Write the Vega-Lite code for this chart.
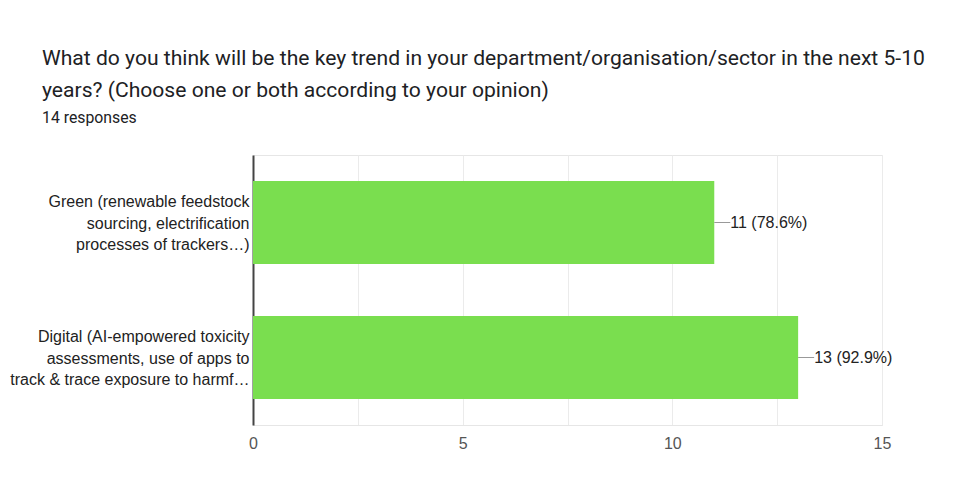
{
  "$schema": "https://vega.github.io/schema/vega-lite/v6.json",
  "width": 629,
  "height": 270,
  "autosize": {"type": "none"},
  "padding": {"left": 253, "top": 155, "right": 86, "bottom": 70},
  "background": "#ffffff",
  "title": {
    "text": ["What do you think will be the key trend in your department/organisation/sector in the next 5-10", "years? (Choose one or both according to your opinion)"],
    "subtitle": "14 responses",
    "anchor": "start",
    "frame": "group",
    "dx": -211,
    "offset": 29,
    "font": "Roboto",
    "fontSize": 21.1,
    "fontWeight": "normal",
    "color": "#202124",
    "lineHeight": 32,
    "subtitleFont": "Roboto",
    "subtitleFontSize": 15.8,
    "subtitleColor": "#202124",
    "subtitlePadding": 10
  },
  "data": {
    "values": [
      {"option": "Green (renewable feedstock|sourcing, electrification|processes of trackers…)", "count": 11, "label": "11 (78.6%)"},
      {"option": "Digital (AI-empowered toxicity|assessments, use of apps to|track & trace exposure to harmf…", "count": 13, "label": "13 (92.9%)"}
    ]
  },
  "encoding": {
    "y": {
      "field": "option",
      "type": "nominal",
      "sort": null,
      "scale": {"paddingInner": 0.385, "paddingOuter": 0.1925},
      "axis": {
        "title": null,
        "labelExpr": "split(datum.label, '|')",
        "labelFont": "Liberation Sans",
        "labelFontSize": 16,
        "labelLineHeight": 21.5,
        "labelOffset": -20.5,
        "labelColor": "#222222",
        "labelPadding": 4,
        "labelLimit": 300,
        "ticks": false,
        "domainColor": "#444444",
        "domainWidth": 2,
        "grid": false
      }
    }
  },
  "layer": [
    {
      "mark": {"type": "bar", "color": "#7ade4f"},
      "encoding": {
        "x": {
          "field": "count",
          "type": "quantitative",
          "scale": {"domain": [0, 15], "nice": false},
          "axis": {
            "title": null,
            "values": [0, 2.5, 5, 7.5, 10, 12.5, 15],
            "labelExpr": "datum.value % 5 == 0 ? datum.label : ''",
            "labelFlush": false,
            "labelFont": "Liberation Sans",
            "labelFontSize": 16,
            "labelColor": "#555555",
            "labelPadding": 10,
            "ticks": false,
            "domainColor": "#e6e6e6",
            "gridColor": "#ebebeb",
            "gridWidth": 1
          }
        }
      }
    },
    {
      "mark": {"type": "rule", "color": "#999999", "strokeWidth": 1, "x2Offset": 16},
      "encoding": {
        "x": {"field": "count", "type": "quantitative"},
        "x2": {"field": "count"}
      }
    },
    {
      "mark": {"type": "text", "align": "left", "baseline": "middle", "dx": 16, "font": "Liberation Sans", "fontSize": 16, "color": "#222222"},
      "encoding": {
        "x": {"field": "count", "type": "quantitative"},
        "text": {"field": "label"}
      }
    }
  ],
  "config": {
    "view": {"stroke": "#e6e6e6", "strokeWidth": 1}
  }
}
